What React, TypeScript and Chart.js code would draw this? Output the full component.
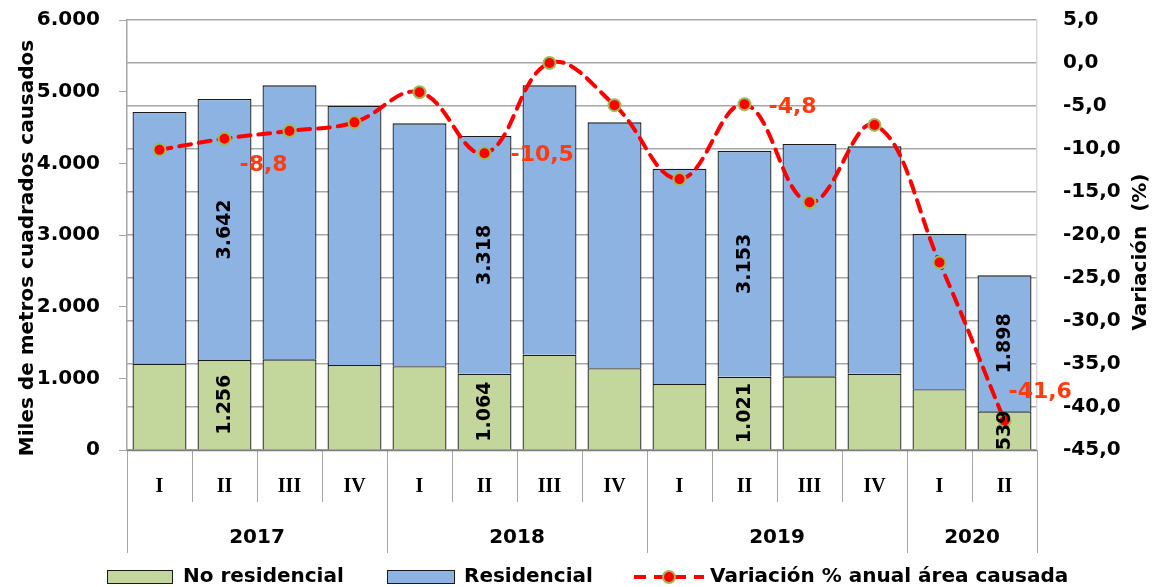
import React, { useEffect, useRef } from 'react';
import { Chart, registerables } from 'chart.js';

Chart.register(...registerables);

const quarters = ['I', 'II', 'III', 'IV', 'I', 'II', 'III', 'IV', 'I', 'II', 'III', 'IV', 'I', 'II'];
const years = ['2017', '2018', '2019', '2020'];
const yearSpans = [4, 4, 4, 2];
const noResidencial = [1204, 1256, 1265, 1186, 1168, 1064, 1330, 1140, 921, 1021, 1028, 1065, 847, 539];
const residencial = [3512, 3642, 3823, 3614, 3390, 3318, 3758, 3432, 3004, 3153, 3242, 3172, 2167, 1898];
const variacion = [-10.1, -8.8, -7.9, -6.9, -3.4, -10.5, 0.0, -4.9, -13.5, -4.8, -16.2, -7.2, -23.2, -41.6];
const labeledBars = [1, 5, 9, 13];
const labeledPoints = [1, 5, 9, 13];

const seriesNames = ['No residencial', 'Residencial', 'Variación % anual área causada'];
const leftTitle = 'Miles de metros cuadrados causados';
const rightTitle = 'Variación  (%)';

const GREEN = '#C3D69B';
const BLUE = '#8DB3E2';
const RED = '#FF0000';
const LABEL_RED = '#FF3B0F';
const GRID = '#A6A6A6';
const FONT = '"DejaVu Sans"';

// label offsets (styling only)
const pointLabelOffsets = [
  { dx: 15, dy: 27 },
  { dx: 26, dy: 2 },
  { dx: 24, dy: 3 },
  { dx: 4, dy: -28 },
];

const fmtThousands = (v: number) => {
  const s = Math.round(v).toString();
  return s.replace(/\B(?=(\d{3})+(?!\d))/g, '.');
};
const fmtPct = (v: number) => v.toFixed(1).replace('.', ',');

const customPlugin = {
  id: 'customDraw',
  afterDatasetsDraw(chart: any) {
    const ctx = chart.ctx as CanvasRenderingContext2D;
    const area = chart.chartArea;
    const n = quarters.length;
    const w = (area.right - area.left) / n;

    ctx.save();
    // bar labels
    ctx.fillStyle = '#000';
    ctx.font = `bold 19px ${FONT}`;
    ctx.textAlign = 'center';
    ctx.textBaseline = 'middle';
    [0, 1].forEach((di) => {
      const meta = chart.getDatasetMeta(di);
      const vals = di === 0 ? noResidencial : residencial;
      labeledBars.forEach((i) => {
        const el = meta.data[i];
        const cy = (el.y + el.base) / 2;
        ctx.save();
        ctx.translate(el.x, cy);
        ctx.rotate(-Math.PI / 2);
        ctx.fillText(fmtThousands(vals[i]), 0, 1);
        ctx.restore();
      });
    });

    // line labels
    const lmeta = chart.getDatasetMeta(2);
    ctx.font = `bold 22px ${FONT}`;
    ctx.fillStyle = LABEL_RED;
    ctx.textAlign = 'left';
    labeledPoints.forEach((i, k) => {
      const el = lmeta.data[i];
      const off = pointLabelOffsets[k];
      ctx.fillText(fmtPct(variacion[i]), el.x + off.dx, el.y + off.dy);
    });

    // x axis separators
    const bottom = area.bottom;
    ctx.strokeStyle = GRID;
    ctx.lineWidth = 1;
    const yearBounds = new Set<number>();
    let acc = 0;
    yearBounds.add(0);
    yearSpans.forEach((s) => {
      acc += s;
      yearBounds.add(acc);
    });
    for (let i = 0; i <= n; i++) {
      const bx = Math.round(area.left + i * w) + 0.5;
      ctx.beginPath();
      ctx.moveTo(bx, bottom);
      ctx.lineTo(bx, yearBounds.has(i) ? bottom + 103 : bottom + 52);
      ctx.stroke();
    }
    // x axis baseline
    ctx.strokeStyle = '#7F7F7F';
    ctx.lineWidth = 1.5;
    ctx.beginPath();
    ctx.moveTo(area.left, bottom + 0.5);
    ctx.lineTo(area.right, bottom + 0.5);
    ctx.stroke();

    // quarter labels
    ctx.fillStyle = '#000';
    ctx.textAlign = 'center';
    ctx.textBaseline = 'middle';
    ctx.font = `bold 20px "Liberation Serif"`;
    quarters.forEach((q, i) => {
      ctx.fillText(q, area.left + (i + 0.5) * w, bottom + 37);
    });
    // year labels
    ctx.font = `bold 20px ${FONT}`;
    let start = 0;
    years.forEach((y, k) => {
      const cx = area.left + (start + yearSpans[k] / 2) * w;
      ctx.fillText(y, cx, bottom + 88);
      start += yearSpans[k];
    });

    // axis titles
    ctx.font = `bold 20px ${FONT}`;
    ctx.save();
    ctx.translate(28, 248);
    ctx.rotate(-Math.PI / 2);
    ctx.fillText(leftTitle, 0, 0);
    ctx.restore();
    ctx.save();
    ctx.translate(1141, 252);
    ctx.rotate(-Math.PI / 2);
    ctx.fillText(rightTitle, 0, 0);
    ctx.restore();

    // legend
    const ly = 577;
    ctx.font = `bold 20px ${FONT}`;
    ctx.textAlign = 'left';
    ctx.lineWidth = 1;
    ctx.strokeStyle = '#1a1a1a';
    ctx.fillStyle = GREEN;
    ctx.fillRect(107, ly - 7, 66, 14);
    ctx.strokeRect(107.5, ly - 6.5, 65, 13);
    ctx.fillStyle = '#000';
    ctx.fillText(seriesNames[0], 183, ly);
    ctx.fillStyle = BLUE;
    ctx.fillRect(387, ly - 7, 68, 14);
    ctx.strokeRect(387.5, ly - 6.5, 67, 13);
    ctx.fillStyle = '#000';
    ctx.fillText(seriesNames[1], 464, ly);
    // line legend
    ctx.strokeStyle = RED;
    ctx.lineWidth = 4;
    ctx.setLineDash([12, 8]);
    ctx.beginPath();
    ctx.moveTo(634, ly);
    ctx.lineTo(704, ly);
    ctx.stroke();
    ctx.setLineDash([]);
    ctx.beginPath();
    ctx.arc(669, ly, 6, 0, Math.PI * 2);
    ctx.fillStyle = RED;
    ctx.fill();
    ctx.lineWidth = 2;
    ctx.strokeStyle = '#9BBB59';
    ctx.stroke();
    ctx.fillStyle = '#000';
    ctx.fillText(seriesNames[2], 710, ly);

    ctx.restore();
  },
};

export default function App() {
  const ref = useRef<HTMLCanvasElement | null>(null);

  useEffect(() => {
    if (!ref.current) return;
    Chart.defaults.font.family = FONT;
    const chart = new Chart(ref.current, {
      type: 'bar',
      data: {
        labels: quarters,
        datasets: [
          {
            type: 'bar',
            label: seriesNames[0],
            data: noResidencial,
            backgroundColor: GREEN,
            borderColor: '#1a1a1a',
            borderWidth: 1.3,
            yAxisID: 'y',
            order: 2,
            barPercentage: 0.83,
            categoryPercentage: 1,
          },
          {
            type: 'bar',
            label: seriesNames[1],
            data: residencial,
            backgroundColor: BLUE,
            borderColor: '#1a1a1a',
            borderWidth: 1.3,
            yAxisID: 'y',
            order: 2,
            barPercentage: 0.83,
            categoryPercentage: 1,
          },
          {
            type: 'line',
            label: seriesNames[2],
            data: variacion,
            borderColor: RED,
            borderWidth: 4,
            borderDash: [12, 8],
            borderCapStyle: 'round',
            tension: 0.4,
            pointRadius: 6,
            pointBorderWidth: 2,
            pointBackgroundColor: RED,
            pointBorderColor: '#9BBB59',
            yAxisID: 'y1',
            order: 0,
          } as any,
        ],
      },
      options: {
        responsive: false,
        animation: false,
        layout: { padding: { top: 20, left: 0, right: 0, bottom: 0 } },
        plugins: {
          legend: { display: false },
          tooltip: { enabled: false },
          title: { display: false },
        },
        scales: {
          x: {
            stacked: true,
            grid: { display: false },
            border: { display: false },
            ticks: { display: false },
            afterFit: (s: any) => {
              s.height = 137;
              s.paddingLeft = 0;
              s.paddingRight = 0;
            },
          },
          y: {
            stacked: true,
            position: 'left',
            min: 0,
            max: 6000,
            ticks: {
              stepSize: 1000,
              color: '#000',
              font: { size: 20, weight: 'bold' },
              padding: 19,
              callback: (v: any) => fmtThousands(Number(v)),
            },
            grid: { drawOnChartArea: false, drawTicks: true, tickLength: 8, color: GRID },
            border: { color: GRID, width: 1.5 },
            afterFit: (s: any) => {
              s.width = 127;
              s.paddingTop = 0;
              s.paddingBottom = 0;
            },
          },
          y1: {
            position: 'right',
            min: -45,
            max: 5,
            ticks: {
              stepSize: 5,
              color: '#000',
              font: { size: 20, weight: 'bold' },
              padding: 26,
              callback: (v: any) => fmtPct(Number(v)),
            },
            grid: { drawOnChartArea: true, drawTicks: false, color: GRID, lineWidth: 1.5 },
            border: { color: '#D9D9D9', width: 1.5 },
            afterFit: (s: any) => {
              s.width = 117;
              s.paddingTop = 0;
              s.paddingBottom = 0;
            },
          },
        },
      },
      plugins: [customPlugin],
    });
    return () => chart.destroy();
  }, []);

  return (
    <div style={{ position: 'fixed', left: 0, top: 0, width: 1154, height: 587, background: '#fff' }}>
      <canvas ref={ref} width={1154} height={587} style={{ width: 1154, height: 587, display: 'block' }} />
    </div>
  );
}
